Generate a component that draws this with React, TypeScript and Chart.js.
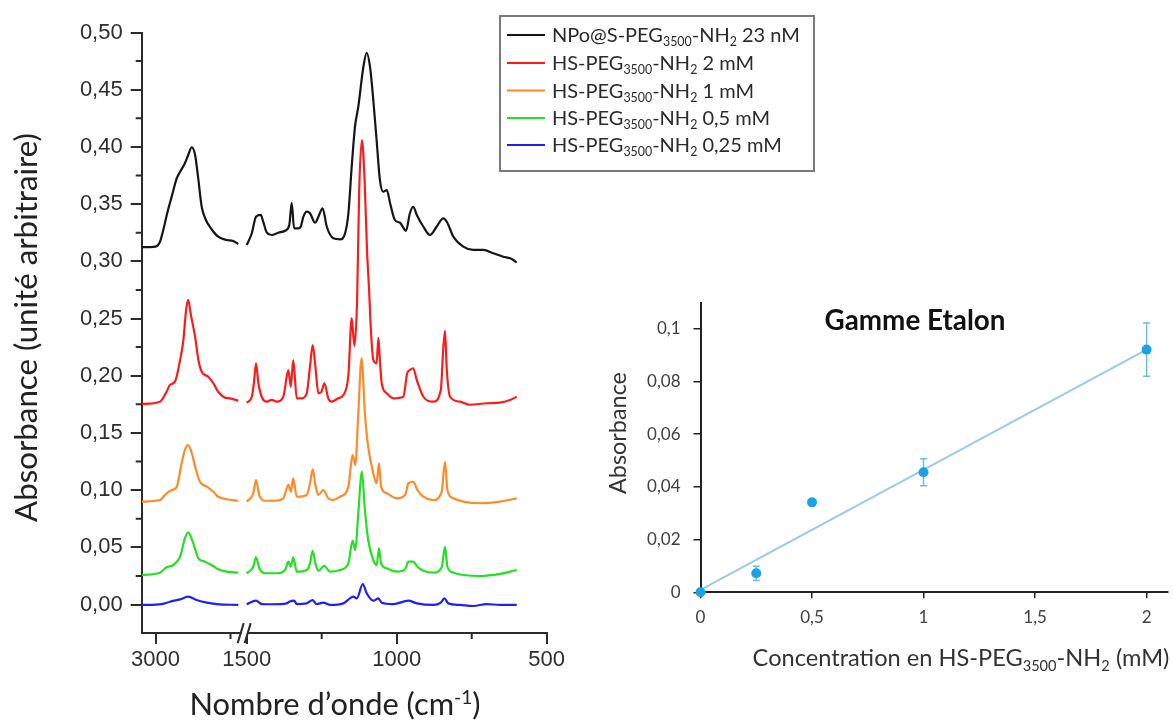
import React, { useEffect, useRef } from 'react';
import { Chart, registerables } from 'chart.js';

Chart.register(...registerables);

// ---------------- IR spectra (wavenumber in cm-1, absorbance) ----------------
const blackWavenumbers = [3046, 3000, 2985, 2974, 2961, 2946, 2929, 2918, 2902, 2891, 2879, 2868, 2857, 2846, 2832, 2813, 2791, 2763, 2741, 2724,
  1500, 1483, 1469, 1453, 1445, 1433, 1417, 1395, 1372, 1358, 1350, 1342, 1328, 1320, 1311, 1300, 1289, 1272, 1261, 1247,
  1233, 1211, 1189, 1172, 1161, 1150, 1139, 1128, 1111, 1100, 1089, 1078, 1067, 1056, 1045, 1033, 1022, 1006, 989, 969,
  956, 945, 933, 911, 889, 867, 845, 833, 811, 778, 745, 711, 678, 645, 622, 611, 600];
const blackAbsorbance = [0.3124, 0.3129, 0.3171, 0.3274, 0.3420, 0.3565, 0.3726, 0.3783, 0.3857, 0.3929, 0.3997, 0.3929, 0.3711, 0.3477, 0.3361, 0.3280, 0.3215, 0.3186, 0.3177, 0.3151,
  0.3142, 0.3245, 0.3390, 0.3405, 0.3346, 0.3250, 0.3230, 0.3250, 0.3267, 0.3317, 0.3512, 0.3288, 0.3288, 0.3302, 0.3390, 0.3434, 0.3420, 0.3337, 0.3390, 0.3463,
  0.3302, 0.3201, 0.3192, 0.3245, 0.3420, 0.3827, 0.4177, 0.4351, 0.4701, 0.4823, 0.4701, 0.4410, 0.4060, 0.3711, 0.3608, 0.3623, 0.3507, 0.3361, 0.3337, 0.3267,
  0.3420, 0.3477, 0.3405, 0.3302, 0.3230, 0.3302, 0.3376, 0.3346, 0.3215, 0.3128, 0.3099, 0.3099, 0.3070, 0.3040, 0.3026, 0.3011, 0.2988];

const redWavenumbers = [3046, 2985, 2963, 2952, 2935, 2918, 2907, 2898, 2891, 2882, 2868, 2857, 2846, 2824, 2807, 2791, 2768, 2752, 2724,
  1500, 1483, 1476, 1469, 1461, 1450, 1433, 1417, 1400, 1378, 1361, 1353, 1345, 1333, 1317, 1300, 1289, 1280, 1271, 1261,
  1251, 1241, 1228, 1217, 1195, 1178, 1161, 1150, 1141, 1132, 1125, 1116, 1107, 1099, 1092, 1086, 1078, 1067, 1061, 1056,
  1050, 1033, 1011, 978, 965, 956, 945, 933, 911, 878, 853, 845, 839, 833, 822, 789, 756, 700, 656, 622, 600];
const redAbsorbance = [0.1753, 0.1773, 0.1860, 0.1919, 0.1948, 0.2137, 0.2312, 0.2574, 0.2662, 0.2531, 0.2341, 0.2137, 0.2035, 0.1991, 0.1934, 0.1860, 0.1808, 0.1802, 0.1781,
  0.1764, 0.1816, 0.1934, 0.2108, 0.1934, 0.1816, 0.1773, 0.1788, 0.1773, 0.1816, 0.2050, 0.1904, 0.2137, 0.1802, 0.1802, 0.1846, 0.2079, 0.2268, 0.2079, 0.1846,
  0.1858, 0.1934, 0.1802, 0.1773, 0.1802, 0.1831, 0.2006, 0.2504, 0.2260, 0.2662, 0.3623, 0.4060, 0.3711, 0.3099, 0.2749, 0.2400, 0.2137, 0.2108, 0.2330, 0.2137,
  0.1934, 0.1846, 0.1802, 0.1816, 0.2021, 0.2050, 0.2065, 0.1962, 0.1816, 0.1773, 0.1875, 0.2225, 0.2391, 0.2050, 0.1816, 0.1773, 0.1746, 0.1759, 0.1764, 0.1788, 0.1816];

const orangeWavenumbers = [3046, 2985, 2963, 2946, 2929, 2913, 2902, 2891, 2879, 2868, 2852, 2829, 2807, 2791, 2763, 2724,
  1500, 1478, 1469, 1458, 1439, 1411, 1378, 1361, 1353, 1345, 1333, 1300, 1289, 1280, 1271, 1261, 1245, 1228, 1212, 1189,
  1161, 1147, 1138, 1128, 1117, 1106, 1095, 1078, 1067, 1059, 1052, 1033, 1000, 972, 961, 945, 931, 911, 878, 850,
  839, 831, 811, 778, 722, 656, 600];
const orangeAbsorbance = [0.0899, 0.0913, 0.0972, 0.1001, 0.1030, 0.1234, 0.1351, 0.1394, 0.1322, 0.1205, 0.1073, 0.1030, 0.0986, 0.0942, 0.0920, 0.0907,
  0.0899, 0.0972, 0.1088, 0.0957, 0.0907, 0.0907, 0.0928, 0.1045, 0.0986, 0.1103, 0.0942, 0.0957, 0.1059, 0.1182, 0.1045, 0.0957, 0.1001, 0.0928, 0.0913, 0.0942,
  0.1030, 0.1307, 0.1219, 0.1671, 0.2152, 0.1671, 0.1379, 0.1147, 0.1059, 0.1234, 0.1030, 0.0972, 0.0928, 0.0957, 0.1059, 0.1073, 0.1001, 0.0942, 0.0913, 0.0986,
  0.1248, 0.1001, 0.0928, 0.0899, 0.0885, 0.0899, 0.0928];

const greenWavenumbers = [3046, 2985, 2963, 2941, 2918, 2902, 2891, 2874, 2857, 2835, 2813, 2791, 2763, 2724,
  1500, 1478, 1469, 1458, 1433, 1400, 1372, 1361, 1353, 1345, 1333, 1300, 1289, 1280, 1271, 1261, 1242, 1222, 1189, 1161,
  1147, 1138, 1128, 1116, 1106, 1095, 1078, 1067, 1059, 1052, 1033, 1000, 972, 961, 945, 931, 911, 878, 850, 839,
  831, 811, 778, 722, 656, 600];
const greenAbsorbance = [0.0258, 0.0278, 0.0325, 0.0345, 0.0418, 0.0579, 0.0631, 0.0535, 0.0404, 0.0374, 0.0345, 0.0308, 0.0287, 0.0278,
  0.0273, 0.0330, 0.0413, 0.0316, 0.0273, 0.0273, 0.0302, 0.0374, 0.0330, 0.0413, 0.0287, 0.0302, 0.0360, 0.0470, 0.0360, 0.0295, 0.0337, 0.0287, 0.0302, 0.0360,
  0.0558, 0.0476, 0.0797, 0.1161, 0.0826, 0.0564, 0.0389, 0.0345, 0.0491, 0.0360, 0.0316, 0.0287, 0.0308, 0.0374, 0.0374, 0.0330, 0.0295, 0.0278, 0.0325, 0.0505,
  0.0330, 0.0278, 0.0258, 0.0249, 0.0267, 0.0302];

const blueWavenumbers = [3046, 2979, 2952, 2918, 2891, 2863, 2829, 2796, 2724,
  1500, 1469, 1450, 1411, 1367, 1358, 1342, 1333, 1300, 1280, 1267, 1245, 1222, 1178, 1156, 1145, 1133, 1113, 1100, 1078,
  1061, 1050, 1011, 961, 933, 878, 853, 841, 828, 789, 745, 700, 656, 600];
const blueAbsorbance = [-0.0004, 0.0004, 0.0024, 0.0045, 0.0068, 0.0039, 0.0016, 0.0004, -0.0004,
  0.0002, 0.0033, 0.0004, 0.0002, 0.0010, 0.0024, 0.0033, 0.0004, 0.0010, 0.0039, 0.0004, 0.0016, -0.0004, 0.0010, 0.0054, 0.0068, 0.0054, 0.0179, 0.0098, 0.0033,
  0.0054, 0.0016, 0.0004, 0.0033, 0.0010, -0.0004, 0.0016, 0.0054, 0.0010, -0.0004, -0.0013, 0.0004, -0.0004, -0.0004];

const seriesNames = [
  'NPo@S-PEG_{3500}-NH_{2} 23 nM',
  'HS-PEG_{3500}-NH_{2} 2 mM',
  'HS-PEG_{3500}-NH_{2} 1 mM',
  'HS-PEG_{3500}-NH_{2} 0,5 mM',
  'HS-PEG_{3500}-NH_{2} 0,25 mM',
];
const seriesColors = ['#151515', '#ff1a1a', '#ff8a2a', '#22e022', '#2020f0'];

const spectrumMajorTicks = [3000, 1500, 1000, 500];
const spectrumMinorTicks = [2750, 1250, 750];
const spectrumYTicks = [0, 0.05, 0.1, 0.15, 0.2, 0.25, 0.3, 0.35, 0.4, 0.45, 0.5];
const spectrumYMinorTicks = [0.025, 0.075, 0.125, 0.175, 0.225, 0.275, 0.325, 0.375, 0.425, 0.475];

// ---------------- Calibration inset ----------------
const concentrations = [0, 0.25, 0.5, 1, 2];
const calibAbsorbance = [0, 0.0072, 0.0341, 0.0455, 0.092];
const calibErrors = [0, 0.0027, 0, 0.0051, 0.0101];
const fitConcentrations = [0, 2];
const fitAbsorbance = [0.0009, 0.092];
const insetXTicks = [0, 0.5, 1, 1.5, 2];
const insetYTicks = [0, 0.02, 0.04, 0.06, 0.08, 0.1];

// ---------------- broken axis helpers ----------------
const LEFT_START = 3046;   // wavenumber at the left end of the axis
const RIGHT_OFFSET = 350;  // axis position of 1500 cm-1
const BREAK_POS = 340;     // axis position of the break marks
const AXIS_END = 1350;     // axis position of 500 cm-1
const toAxis = (w: number) => (w > 2000 ? LEFT_START - w : RIGHT_OFFSET + (1500 - w));
const fromAxis = (u: number) => (u < BREAK_POS ? LEFT_START - u : 1500 - (u - RIGHT_OFFSET));

function buildSeries(ws: number[], as: number[]) {
  const pts: { x: number; y: number | null }[] = [];
  for (let i = 0; i < ws.length; i++) {
    if (i > 0 && ws[i - 1] > 2000 && ws[i] <= 2000) pts.push({ x: BREAK_POS, y: null });
    pts.push({ x: toAxis(ws[i]), y: as[i] });
  }
  return pts;
}

// ---------------- rich text ----------------
const TEXT_FONT = 'Lato, "Open Sans", sans-serif';
type Part = { t: string; sub?: boolean; sup?: boolean };
function richParts(s: string): Part[] {
  const parts: Part[] = [];
  const re = /(_|\^)\{([^}]*)\}/g;
  let last = 0;
  let m: RegExpExecArray | null;
  while ((m = re.exec(s))) {
    if (m.index > last) parts.push({ t: s.slice(last, m.index) });
    parts.push({ t: m[2], sub: m[1] === '_', sup: m[1] === '^' });
    last = re.lastIndex;
  }
  if (last < s.length) parts.push({ t: s.slice(last) });
  return parts;
}
function richWidth(ctx: CanvasRenderingContext2D, parts: Part[], size: number, weight: string) {
  let w = 0;
  for (const p of parts) {
    ctx.font = `${weight} ${p.sub || p.sup ? size * 0.62 : size}px ${TEXT_FONT}`;
    w += ctx.measureText(p.t).width;
  }
  return w;
}
function fitSize(ctx: CanvasRenderingContext2D, text: string, width: number, weight = 'normal') {
  return (100 * width) / richWidth(ctx, richParts(text), 100, weight);
}
function drawRich(ctx: CanvasRenderingContext2D, text: string, x: number, y: number,
  o: { size: number; weight?: string; color: string; align: 'center' | 'left'; rotate?: boolean }) {
  const parts = richParts(text);
  const weight = o.weight || 'normal';
  const size = o.size;
  const total = richWidth(ctx, parts, size, weight);
  ctx.save();
  ctx.translate(x, y);
  if (o.rotate) ctx.rotate(-Math.PI / 2);
  let cx = o.align === 'center' ? -total / 2 : 0;
  const base = size * 0.36;
  ctx.fillStyle = o.color;
  ctx.textBaseline = 'alphabetic';
  ctx.textAlign = 'left';
  for (const p of parts) {
    const s = p.sub || p.sup ? size * 0.62 : size;
    ctx.font = `${weight} ${s}px ${TEXT_FONT}`;
    const dy = p.sub ? size * 0.2 : p.sup ? -size * 0.36 : 0;
    ctx.fillText(p.t, cx, base + dy);
    cx += ctx.measureText(p.t).width;
  }
  ctx.restore();
}

const AXIS_COLOR = '#2b2b2b';
const LEFT_W = 830;
const INSET_LEFT = 560;
const INSET_TOP = 280;
const INSET_W = 613;
const INSET_H = 440;

const spectrumDecor = {
  id: 'spectrumDecor',
  afterDraw(chart: any) {
    const { ctx, chartArea, scales } = chart;
    const xs = scales.x;
    const ys = scales.y;
    ctx.save();
    ctx.strokeStyle = AXIS_COLOR;
    ctx.lineWidth = 2;
    ctx.beginPath();
    for (const v of spectrumYMinorTicks) {
      const py = ys.getPixelForValue(v);
      ctx.moveTo(chartArea.left - 6, py);
      ctx.lineTo(chartArea.left, py);
    }
    for (const w of spectrumMinorTicks) {
      const px = xs.getPixelForValue(toAxis(w));
      ctx.moveTo(px, chartArea.bottom);
      ctx.lineTo(px, chartArea.bottom + 6);
    }
    ctx.stroke();
    // axis break
    const bx = xs.getPixelForValue(BREAK_POS) + 2;
    const by = chartArea.bottom;
    ctx.fillStyle = '#fff';
    ctx.fillRect(bx - 4, by - 3, 6, 6);
    ctx.beginPath();
    ctx.moveTo(bx - 8, by + 10);
    ctx.lineTo(bx - 2, by - 10);
    ctx.moveTo(bx - 1, by + 10);
    ctx.lineTo(bx + 5, by - 10);
    ctx.stroke();

    // axis titles
    const yTitle = 'Absorbance (unité arbitraire)';
    drawRich(ctx, yTitle, 26, 327.5, { size: fitSize(ctx, yTitle, 389), color: '#222', align: 'center', rotate: true });
    const xTitle = 'Nombre d’onde (cm^{-1})';
    drawRich(ctx, xTitle, 335, 704, { size: fitSize(ctx, xTitle, 291), color: '#222', align: 'center' });

    // legend
    ctx.strokeStyle = '#7a7a7a';
    ctx.lineWidth = 2;
    ctx.strokeRect(500, 16, 314, 155);
    const lsize = fitSize(ctx, seriesNames[0], 248);
    const rows = [35, 63, 90.5, 118, 145];
    seriesNames.forEach((name, i) => {
      ctx.strokeStyle = seriesColors[i];
      ctx.lineWidth = 2;
      ctx.beginPath();
      ctx.moveTo(507, rows[i]);
      ctx.lineTo(545, rows[i]);
      ctx.stroke();
      drawRich(ctx, name, 552, rows[i], { size: lsize, color: '#2a2a2a', align: 'left' });
    });
    ctx.restore();
  },
};

const insetDecor = {
  id: 'insetDecor',
  beforeDatasetsDraw(chart: any) {
    const { ctx, scales } = chart;
    ctx.save();
    ctx.strokeStyle = '#6cbbe8';
    ctx.lineWidth = 1.5;
    ctx.beginPath();
    concentrations.forEach((c, i) => {
      const e = calibErrors[i];
      if (!e) return;
      const px = scales.x.getPixelForValue(c);
      const top = scales.y.getPixelForValue(calibAbsorbance[i] + e);
      const bot = scales.y.getPixelForValue(calibAbsorbance[i] - e);
      ctx.moveTo(px, top);
      ctx.lineTo(px, bot);
      ctx.moveTo(px - 3.5, top);
      ctx.lineTo(px + 3.5, top);
      ctx.moveTo(px - 3.5, bot);
      ctx.lineTo(px + 3.5, bot);
    });
    ctx.stroke();
    ctx.restore();
  },
  afterDraw(chart: any) {
    const { ctx } = chart;
    ctx.save();
    const title = 'Gamme Etalon';
    drawRich(ctx, title, 915 - INSET_LEFT, 320 - INSET_TOP, { size: fitSize(ctx, title, 181, 'bold'), weight: 'bold', color: '#111', align: 'center' });
    const yTitle = 'Absorbance';
    drawRich(ctx, yTitle, 618 - INSET_LEFT, 433 - INSET_TOP, { size: fitSize(ctx, yTitle, 122), color: '#333', align: 'center', rotate: true });
    const xTitle = 'Concentration en HS-PEG_{3500}-NH_{2} (mM)';
    drawRich(ctx, xTitle, 961 - INSET_LEFT, 658 - INSET_TOP, { size: fitSize(ctx, xTitle, 417), color: '#333', align: 'center' });
    ctx.restore();
  },
};

function spectrumConfig(): any {
  const sets = [
    [blackWavenumbers, blackAbsorbance],
    [redWavenumbers, redAbsorbance],
    [orangeWavenumbers, orangeAbsorbance],
    [greenWavenumbers, greenAbsorbance],
    [blueWavenumbers, blueAbsorbance],
  ];
  return {
    type: 'line',
    data: {
      datasets: sets.map(([w, a], i) => ({
        label: seriesNames[i],
        data: buildSeries(w, a),
        borderColor: seriesColors[i],
        borderWidth: 2.2,
        pointRadius: 0,
        spanGaps: false,
        cubicInterpolationMode: 'monotone',
        fill: false,
      })),
    },
    options: {
      responsive: false,
      animation: false,
      devicePixelRatio: 1,
      parsing: false,
      layout: { padding: { left: 0, right: LEFT_W - 546.7, top: 32.5, bottom: 0 } },
      plugins: { legend: { display: false }, tooltip: { enabled: false }, title: { display: false } },
      scales: {
        x: {
          type: 'linear',
          min: 0,
          max: AXIS_END,
          afterFit: (s: any) => { s.height = 720 - 633.1; },
          afterBuildTicks: (s: any) => { s.ticks = spectrumMajorTicks.map((w) => ({ value: toAxis(w) })); },
          ticks: {
            callback: (v: number) => String(Math.round(fromAxis(v))),
            font: { family: '"Liberation Sans", Arial, sans-serif', size: 22 },
            color: '#2e2e2e',
            padding: 3,
            maxRotation: 0,
            autoSkip: false,
          },
          grid: { display: true, drawOnChartArea: false, drawTicks: true, tickLength: 11, color: AXIS_COLOR, lineWidth: 2 },
          border: { display: true, color: AXIS_COLOR, width: 2 },
        },
        y: {
          type: 'linear',
          min: -0.025,
          max: 0.5,
          afterFit: (s: any) => { s.width = 141.7; },
          afterBuildTicks: (s: any) => { s.ticks = spectrumYTicks.map((v) => ({ value: v })); },
          ticks: {
            callback: (v: number) => v.toFixed(2).replace('.', ','),
            font: { family: '"Liberation Sans", Arial, sans-serif', size: 22 },
            color: '#2e2e2e',
            padding: 8,
          },
          grid: { display: true, drawOnChartArea: false, drawTicks: true, tickLength: 11, color: AXIS_COLOR, lineWidth: 2 },
          border: { display: true, color: AXIS_COLOR, width: 2 },
        },
      },
    },
    plugins: [spectrumDecor],
  };
}

function insetConfig(): any {
  const fmt = (v: number) => (v === 0 ? '0' : String(+v.toFixed(3)).replace('.', ','));
  return {
    type: 'scatter',
    data: {
      datasets: [
        {
          label: 'Absorbance',
          data: concentrations.map((c, i) => ({ x: c, y: calibAbsorbance[i] })),
          pointRadius: 5,
          pointBackgroundColor: '#1ea2e6',
          pointBorderWidth: 0,
          clip: false,
        },
        {
          type: 'line',
          label: 'Fit',
          data: fitConcentrations.map((c, i) => ({ x: c, y: fitAbsorbance[i] })),
          borderColor: '#9cc8ea',
          borderWidth: 2,
          pointRadius: 0,
          fill: false,
        },
      ],
    },
    options: {
      responsive: false,
      animation: false,
      devicePixelRatio: 1,
      layout: { padding: { left: 0, right: 3, top: 303 - INSET_TOP, bottom: 0 } },
      plugins: { legend: { display: false }, tooltip: { enabled: false } },
      scales: {
        x: {
          type: 'linear',
          min: 0,
          max: 2.096,
          afterFit: (s: any) => { s.height = INSET_H - (592.3 - INSET_TOP); },
          afterBuildTicks: (s: any) => { s.ticks = insetXTicks.map((v) => ({ value: v })); },
          ticks: { callback: fmt, font: { family: TEXT_FONT, size: 17 }, color: '#404040', padding: 9, maxRotation: 0, autoSkip: false },
          grid: { display: true, drawOnChartArea: false, drawTicks: true, tickLength: 6, color: '#222', lineWidth: 1.5 },
          border: { display: true, color: '#222', width: 2 },
        },
        y: {
          type: 'linear',
          min: 0,
          max: 0.1096,
          afterFit: (s: any) => { s.width = 700.5 - INSET_LEFT; },
          afterBuildTicks: (s: any) => { s.ticks = insetYTicks.map((v) => ({ value: v })); },
          ticks: { callback: fmt, font: { family: TEXT_FONT, size: 17 }, color: '#404040', padding: 13 },
          grid: { display: true, drawOnChartArea: false, drawTicks: true, tickLength: 7, color: '#222', lineWidth: 1.5 },
          border: { display: true, color: '#222', width: 2 },
        },
      },
    },
    plugins: [insetDecor],
  };
}

export default function App() {
  const leftRef = useRef<HTMLCanvasElement>(null);
  const insetRef = useRef<HTMLCanvasElement>(null);
  useEffect(() => {
    const c1 = new Chart(leftRef.current as HTMLCanvasElement, spectrumConfig());
    const c2 = new Chart(insetRef.current as HTMLCanvasElement, insetConfig());
    return () => {
      c1.destroy();
      c2.destroy();
    };
  }, []);
  return (
    <div style={{ position: 'fixed', left: 0, top: 0, width: 1173, height: 720, background: '#fff', overflow: 'hidden' }}>
      <canvas ref={leftRef} width={LEFT_W} height={720} style={{ position: 'absolute', left: 0, top: 0, width: LEFT_W, height: 720 }} />
      <canvas ref={insetRef} width={INSET_W} height={INSET_H} style={{ position: 'absolute', left: INSET_LEFT, top: INSET_TOP, width: INSET_W, height: INSET_H }} />
    </div>
  );
}
